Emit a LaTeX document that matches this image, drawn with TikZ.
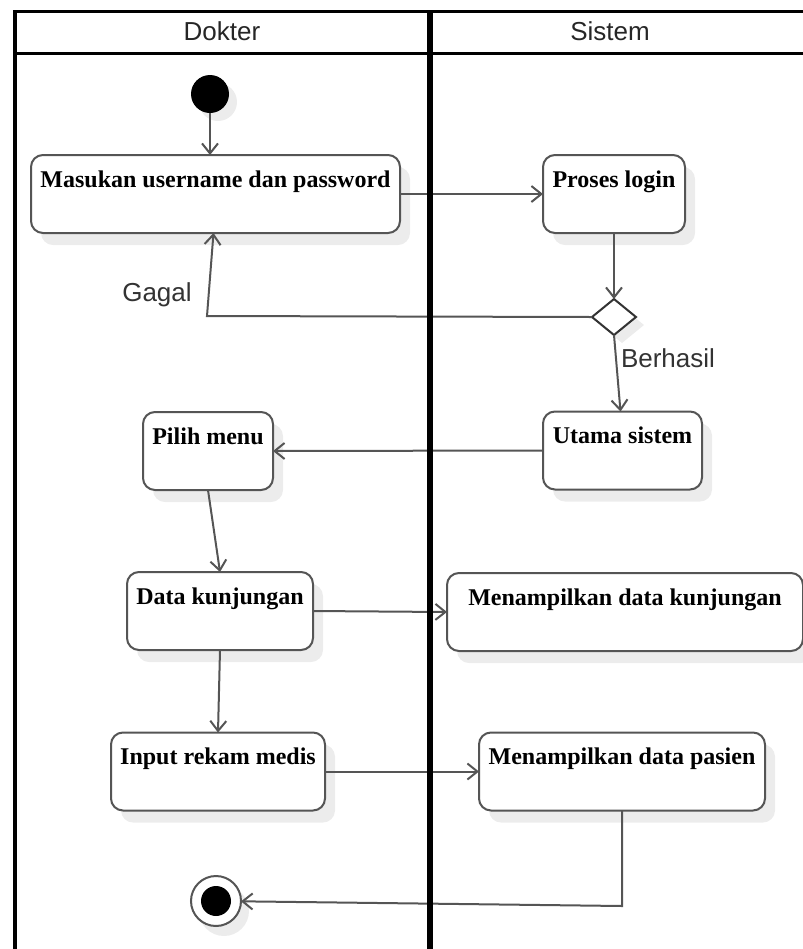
\documentclass[tikz,border=0pt]{standalone}
\usepackage{fontspec}
\setmainfont{Liberation Serif}
\setsansfont{Liberation Sans}
\usepackage{tikz}
\usetikzlibrary{arrows.meta,shapes.geometric,shadows,positioning}
\definecolor{linegray}{RGB}{85,85,85}
\definecolor{shadegray}{RGB}{236,236,236}

\begin{document}
\begin{tikzpicture}[x=0.5pt,y=-0.5pt,
  every node/.style={outer sep=0pt},
  act/.style={draw=linegray,line width=1pt,rounded corners=6pt,fill=white,
    text height=16pt,text depth=23pt,inner ysep=0pt,inner xsep=2pt,
    font=\fontsize{12}{14}\selectfont\bfseries,
    drop shadow={shadow xshift=5pt,shadow yshift=-6pt,fill=shadegray,opacity=1}},
  hdr/.style={font=\sffamily\fontsize{13}{15}\selectfont,text=black!85,inner sep=0pt},
  lbl/.style={font=\sffamily\fontsize{13}{15}\selectfont,text=black!80,inner sep=0pt},
  flow/.style={draw=linegray,line width=1pt,-{Straight Barb[length=5pt,width=8pt]}},
  lane/.style={draw=black},
]
\useasboundingbox (0,0) rectangle (803,949);
\clip (0,0) rectangle (803,949);

\node[hdr](hdrD)at(222,31){Dokter};
\node[hdr](hdrS)at(610,31){Sistem};

\node[circle,fill=black,minimum size=19pt,inner sep=0pt,
  drop shadow={shadow xshift=4pt,shadow yshift=-4pt,fill=shadegray,opacity=1}]
  (startdot)at(210,94){};

\node[act,minimum width=184.5pt](masuk)at(215.5,194){Masukan username dan password};
\node[act,minimum width=71pt](proses)at(614,194){Proses login};
\node[diamond,draw=black!80,line width=1pt,fill=white,minimum width=22pt,
  minimum height=18pt,inner sep=0pt,
  drop shadow={shadow xshift=4pt,shadow yshift=-4pt,fill=shadegray,opacity=1}]
  (cek)at(614,317){};
\node[act,minimum width=79.5pt](utama)at(622.5,450.5){Utama sistem};
\node[act,minimum width=65pt](pilih)at(208,451){Pilih menu};
\node[act,minimum width=93pt](datakj)at(220,611){Data kunjungan};
\node[act,minimum width=178pt](tampilkj)at(625,612){Menampilkan data kunjungan};
\node[act,minimum width=107pt](input)at(218,771.5){Input rekam medis};
\node[act,minimum width=143pt](tampilps)at(622,771.5){Menampilkan data pasien};

\node[circle,draw=linegray,line width=1pt,fill=white,minimum size=25pt,inner sep=0pt,
  drop shadow={shadow xshift=4pt,shadow yshift=-5pt,fill=shadegray,opacity=1}]
  (akhir)at(216,901){};
\node[circle,fill=black,minimum size=15pt,inner sep=0pt](akhirdot)at(akhir.center){};

\node[lbl](gagal)at(157,295){Gagal};
\node[lbl,anchor=west](berhasil)at(621,358){Berhasil};

\coordinate(gagalbend)at(207,316);
\coordinate(akhirbend)at(622,906);

\draw[flow](startdot)--(startdot|-masuk.north);
\draw[flow](masuk.east)--(proses.west);
\draw[flow](proses.south)--(cek.north);
\draw[flow](cek.west)--(gagalbend)--([xshift=-1pt]masuk.south);
\draw[flow](cek.south)--([xshift=-1pt]utama.north);
\draw[flow](utama.west)--(pilih.east);
\draw[flow](pilih.south)--(datakj.north);
\draw[flow](datakj.east)--(tampilkj.west);
\draw[flow](datakj.south)--(input.north);
\draw[flow](input.east)--(tampilps.west);
\draw[flow](tampilps.south)--(akhirbend)--(akhir);

% swimlanes
\draw[lane,line width=1.5pt](13.5,11)--(820,11);
\draw[lane,line width=1.5pt](13.5,53)--(820,53);
\draw[lane,line width=2pt](14.5,10)--(14.5,960);
\draw[lane,line width=3pt](430,10)--(430,960);
\end{tikzpicture}
\end{document}
